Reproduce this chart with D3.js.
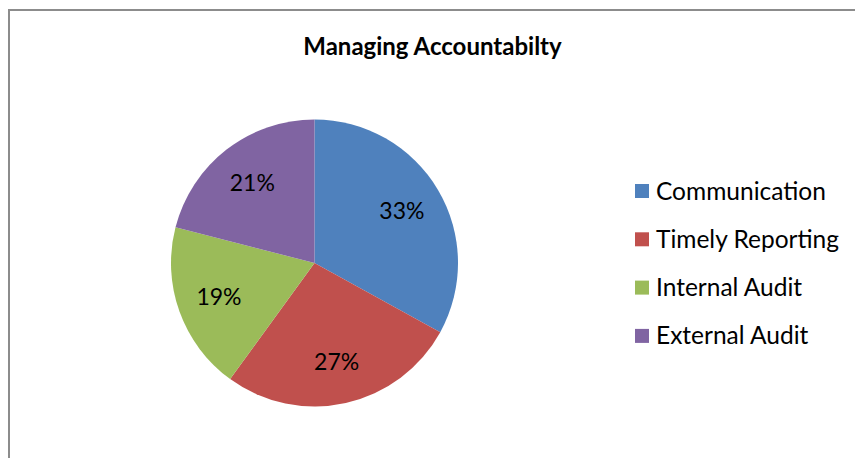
<!DOCTYPE html>
<html>
<head>
<meta charset="utf-8">
<script src="https://cdn.jsdelivr.net/npm/d3@7"></script>
<style>
  html, body { margin: 0; padding: 0; background: #fff; }
  svg { display: block; }
  text { font-family: Lato, "Open Sans", sans-serif; fill: #000; }
</style>
</head>
<body>
<svg id="chart" width="855" height="458"></svg>
<script>
const title = "Managing Accountabilty";
const categories = ["Communication", "Timely Reporting", "Internal Audit", "External Audit"];
const values = [33, 27, 19, 21];
const colors = ["#4F81BD", "#C0504D", "#9BBB59", "#8064A2"];

const svg = d3.select("#chart");
const W = 855, H = 458;

// chart frame
svg.append("path")
  .attr("d", `M9,${H} L9,10 L${W},10`)
  .attr("fill", "none")
  .attr("stroke", "#8c8c8c")
  .attr("stroke-width", 2);

// title
svg.append("text")
  .attr("x", 432.5).attr("y", 55)
  .attr("text-anchor", "middle")
  .style("font-weight", "bold")
  .style("font-size", "24px")
  .text(title);

const cx = 314.5, cy = 263, R = 143.5;
const data = categories.map((c, i) => ({ name: c, value: values[i], color: colors[i] }));
const pie = d3.pie().value(d => d.value).sort(null);
const arc = d3.arc().innerRadius(0).outerRadius(R);
const labelArc = d3.arc().innerRadius(101.5).outerRadius(101.5);

const g = svg.append("g").attr("transform", `translate(${cx},${cy})`);
const arcs = pie(data);
g.selectAll("path.slice").data(arcs).join("path")
  .attr("class", "slice")
  .attr("d", arc)
  .attr("fill", d => d.data.color);

const total = d3.sum(values);
g.selectAll("text.lbl").data(arcs).join("text")
  .attr("class", "lbl")
  .attr("transform", d => `translate(${labelArc.centroid(d)})`)
  .attr("text-anchor", "middle")
  .attr("dy", "0.35em")
  .style("font-size", "23px")
  .text(d => d3.format(".0%")(d.data.value / total));

// legend
const legend = svg.append("g").attr("transform", "translate(635,184)");
const rows = legend.selectAll("g").data(data).join("g")
  .attr("transform", (d, i) => `translate(0,${i * 48.3})`);
rows.append("rect").attr("width", 14).attr("height", 14).attr("fill", d => d.color);
rows.append("text").attr("x", 21).attr("y", 7).attr("dy", "0.35em")
  .style("font-size", "24.5px")
  .text(d => d.name);
</script>
</body>
</html>
